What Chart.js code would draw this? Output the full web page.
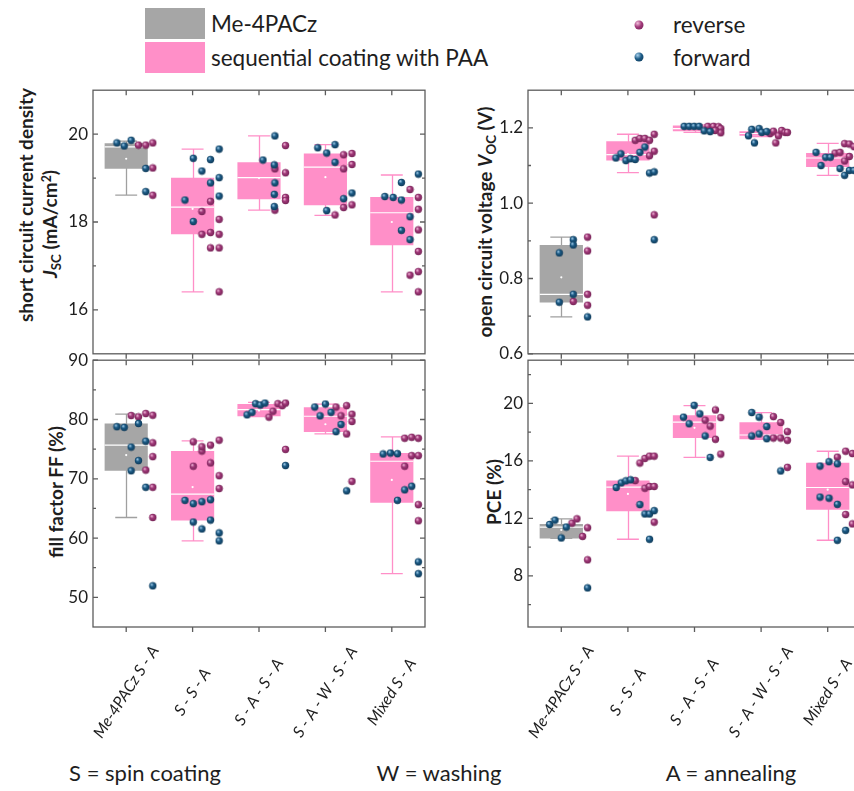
<!DOCTYPE html>
<html>
<head>
<meta charset="utf-8">
<script src="https://cdn.jsdelivr.net/npm/chart.js@4.4.1/dist/chart.umd.min.js"></script>
<style>
  body { margin: 0; background: #fff; }
  #page { position: relative; width: 854px; height: 791px; overflow: hidden; font-family: Lato, "Open Sans", sans-serif; color: #1e1e1e; }
  canvas { position: absolute; }
  .sw { position: absolute; width: 60px; height: 31px; }
  .txt { position: absolute; white-space: nowrap; transform: translateY(-50%); font-size: 22.5px; }
  .ball { position: absolute; width: 9px; height: 9px; border-radius: 50%; transform: translate(-50%, -50%); }
  .ytitle { position: absolute; white-space: nowrap; font-weight: bold; font-size: 19px; transform: translate(-50%, -50%) rotate(-90deg); }
  .ytitle sub { font-size: 70%; vertical-align: -0.25em; }
  .ytitle sup { font-size: 65%; vertical-align: 0.5em; }
  .foot { position: absolute; white-space: nowrap; font-size: 22px; transform: translate(-50%, -50%); }
</style>
</head>
<body>
<div id="page">
  <div class="sw" style="left:145px;top:8px;background:#a6a6a6"></div>
  <div class="sw" style="left:145px;top:42px;background:#ff8fc8"></div>
  <div class="txt" style="left:211px;top:23px">Me-4PACz</div>
  <div class="txt" style="left:211px;top:57px">sequential coating with PAA</div>
  <div class="ball" style="left:639px;top:25px;background:radial-gradient(circle at 35% 30%, #f3bfdc 0%, #a2397a 45%, #6e1f50 100%)"></div>
  <div class="ball" style="left:639px;top:57px;background:radial-gradient(circle at 35% 30%, #a9d2ee 0%, #1c5b86 45%, #0d3552 100%)"></div>
  <div class="txt" style="left:673px;top:24px">reverse</div>
  <div class="txt" style="left:673px;top:57px">forward</div>

  <div class="ytitle" style="left:25px;top:205px">short circuit current density</div>
  <div class="ytitle" style="left:51px;top:224px"><i>J</i><sub>SC</sub> (mA/cm<sup>2</sup>)</div>
  <div class="ytitle" style="left:55px;top:492px">fill factor FF (%)</div>
  <div class="ytitle" style="left:486px;top:222px">open circuit voltage <i>V</i><sub>OC</sub> (V)</div>
  <div class="ytitle" style="left:493px;top:492px">PCE (%)</div>

  <div class="foot" style="left:145px;top:772px">S = spin coating</div>
  <div class="foot" style="left:439px;top:772px">W = washing</div>
  <div class="foot" style="left:731px;top:772px">A = annealing</div>

  <canvas id="cJsc" width="430" height="294" style="left:0;top:75px"></canvas>
  <canvas id="cFF" width="430" height="442" style="left:0;top:345px"></canvas>
  <canvas id="cVoc" width="431" height="294" style="left:435px;top:75px"></canvas>
  <canvas id="cPCE" width="431" height="442" style="left:435px;top:345px"></canvas>
</div>
<script>
// categories (x axis)
const categories = ["Me-4PACz S - A", "S - S - A", "S - A - S - A", "S - A - W - S - A", "Mixed S - A"];

// box stats per category: [whisker low, q1, median, q3, whisker high, mean]
const jscStats = [
  [18.61, 19.21, 19.71, 19.79, 19.84, 19.44],
  [16.41, 17.72, 18.34, 19.01, 19.66, 18.3],
  [18.27, 18.52, 19.01, 19.36, 19.96, 19.0],
  [18.15, 18.38, 19.25, 19.56, 19.76, 19.02],
  [16.41, 17.47, 18.21, 18.57, 19.07, 18.0]
];
const vocStats = [
  [0.698, 0.736, 0.758, 0.889, 0.910, 0.803],
  [1.081, 1.113, 1.129, 1.1645, 1.183, 1.13],
  [1.188, 1.191, 1.198, 1.206, 1.208, 1.198],
  [1.177, 1.179, 1.185, 1.191, 1.194, 1.185],
  [1.074, 1.096, 1.120, 1.133, 1.159, 1.115]
];
const ffStats = [
  [63.47, 71.35, 75.67, 79.33, 80.89, 74.0],
  [59.53, 62.97, 67.41, 74.68, 76.39, 68.6],
  [80.5, 80.55, 81.66, 82.61, 82.9, 81.5],
  [77.56, 77.89, 80.55, 82.05, 82.6, 79.2],
  [53.99, 65.97, 72.96, 74.34, 77.06, 69.8]
];
const pceStats = [
  [10.61, 10.61, 11.40, 11.62, 11.97, 11.2],
  [10.55, 12.50, 14.17, 14.63, 16.33, 13.7],
  [16.24, 17.59, 18.69, 19.17, 19.84, 18.3],
  [17.50, 17.50, 17.80, 18.69, 19.36, 18.0],
  [10.48, 12.61, 14.15, 15.87, 16.67, 14.0]
];

// single cells: [x = category index + jitter, value]
const jscForward = [
  [-0.14,19.80],[-0.03,19.73],[0.075,19.86],[0.295,19.22],[0.295,18.69],
  [0.885,18.50],[1.01,19.45],[1.01,18.01],[1.14,19.16],[1.27,19.42],[1.27,18.89],[1.40,19.66],[1.40,19.01],[1.40,18.59],
  [2.06,19.41],[2.23,19.30],[2.24,19.96],[2.24,18.89],[2.23,18.63],[2.23,18.35],
  [2.885,19.69],[3.02,19.57],[3.145,19.76],[3.145,19.36],[3.275,18.53],[3.02,18.26],[3.40,18.66],
  [3.895,18.58],[4.02,18.56],[4.145,18.50],[4.145,18.90],[4.275,18.12],[4.145,17.81],[4.275,17.60],[4.40,19.09]
];
const jscReverse = [
  [0.185,19.75],[0.295,19.75],[0.40,19.80],[0.40,19.23],[0.40,18.61],
  [1.14,18.24],[1.14,17.72],[1.27,18.47],[1.27,17.76],[1.27,17.41],[1.40,18.06],[1.40,17.72],[1.40,17.41],[1.40,16.41],
  [2.40,19.74],[2.24,19.21],[2.40,19.12],[2.40,18.56],[2.40,18.49],[2.24,18.27],
  [3.275,19.21],[3.275,19.53],[3.40,19.56],[3.40,19.31],[3.275,18.33],[3.145,18.16],[3.40,18.39],
  [4.275,18.74],[4.40,18.56],[4.40,18.29],[4.40,17.82],[4.40,17.33],[4.275,16.79],[4.40,16.87],[4.40,16.41]
];
const vocForward = [
  [-0.03,0.868],[-0.03,0.737],[0.18,0.903],[0.18,0.889],[0.18,0.758],[0.395,0.698],
  [0.82,1.120],[0.895,1.131],[0.97,1.113],[1.04,1.118],[1.11,1.116],[1.18,1.135],[1.255,1.149],[1.325,1.080],[1.395,1.083],[1.395,0.903],
  [1.845,1.204],[1.92,1.204],[1.995,1.204],[2.07,1.204],[2.145,1.192],[2.235,1.190],
  [2.81,1.179],[2.86,1.196],[2.90,1.160],[2.97,1.198],[3.01,1.188],[3.085,1.190],
  [3.825,1.135],[3.90,1.100],[3.97,1.122],[4.04,1.122],[4.185,1.092],[4.255,1.074],[4.325,1.087],[4.395,1.087]
];
const vocReverse = [
  [0.18,0.739],[0.395,0.910],[0.395,0.873],[0.395,0.758],[0.395,0.729],
  [1.11,1.167],[1.18,1.172],[1.255,1.172],[1.325,1.167],[1.395,1.183],[1.395,1.138],[1.325,1.126],[1.395,0.969],
  [2.20,1.204],[2.285,1.204],[2.36,1.203],[2.395,1.198],[2.395,1.187],[2.31,1.193],
  [3.135,1.185],[3.185,1.191],[3.22,1.160],[3.26,1.179],[3.31,1.193],[3.36,1.188],[3.395,1.188],
  [4.11,1.133],[4.185,1.135],[4.255,1.158],[4.325,1.157],[4.255,1.112],[4.325,1.124],[4.395,1.150]
];
const ffForward = [
  [-0.14,78.78],[-0.03,78.67],[0.075,75.34],[0.075,71.35],[0.185,79.33],[0.185,73.07],[0.295,76.34],[0.295,68.57],[0.40,51.94],
  [0.885,66.36],[1.01,65.80],[1.14,66.13],[1.27,66.47],[1.01,62.70],[1.14,61.53],[1.27,63.03],[1.40,60.87],[1.40,59.53],
  [1.82,80.78],[1.895,81.22],[1.95,82.66],[2.02,82.44],[2.09,82.77],[2.40,72.23],
  [2.84,82.1],[2.92,80.61],[3.0,82.61],[3.085,81.22],[3.235,79.17],[3.16,77.95],[3.32,67.96],
  [3.87,74.18],[3.98,74.34],[4.085,74.23],[4.085,66.36],[4.195,68.13],[4.30,68.74],[4.40,55.98],[4.40,53.99]
];
const ffReverse = [
  [0.075,80.67],[0.185,80.44],[0.295,81.0],[0.40,80.72],[0.40,76.06],[0.40,73.73],[0.295,71.46],[0.40,68.57],[0.40,63.47],
  [1.01,76.23],[1.14,74.68],[1.14,75.40],[1.27,75.67],[1.40,76.51],[1.01,72.12],[1.27,72.68],[1.40,70.52],[1.40,68.35],
  [2.15,80.39],[2.21,81.39],[2.285,82.66],[2.35,82.33],[2.40,82.77],[2.40,74.95],
  [3.16,82.1],[3.32,82.33],[3.235,80.61],[3.40,80.89],[3.40,79.67],[3.32,77.56],[3.40,69.57],
  [4.195,72.12],[4.195,76.84],[4.30,77.0],[4.30,73.9],[4.40,76.84],[4.40,73.9],[4.40,65.64],[4.40,62.92]
];
const pceForward = [
  [-0.175,11.58],[-0.095,11.88],[0.0,10.64],[0.075,11.40],[0.395,7.17],
  [0.825,14.15],[0.90,14.47],[0.97,14.61],[1.04,14.68],[1.18,12.96],[1.255,12.31],[1.325,12.31],[1.395,12.54],[1.325,10.55],
  [1.835,19.04],[1.92,18.58],[1.995,19.86],[2.08,19.27],[2.16,17.73],[2.235,16.24],
  [2.86,19.36],[2.97,19.04],[3.085,18.39],[2.86,17.73],[2.97,17.87],[3.085,17.54],[3.295,15.30],
  [3.885,15.64],[4.02,15.94],[4.145,15.80],[3.885,13.48],[4.02,13.41],[4.145,12.98],[4.27,11.17],[4.145,10.48]
];
const pceReverse = [
  [0.16,11.67],[0.235,11.97],[0.32,10.75],[0.395,11.35],[0.395,9.12],
  [1.11,14.63],[1.18,15.85],[1.255,16.17],[1.325,16.33],[1.395,16.33],[1.255,14.10],[1.325,14.22],[1.395,14.22],[1.395,11.74],
  [2.16,18.83],[2.235,18.42],[2.315,19.54],[2.315,17.50],[2.395,19.01],[2.395,16.47],
  [3.185,19.08],[3.295,18.67],[3.185,17.59],[3.295,17.59],[3.395,18.03],[3.395,17.43],[3.395,15.55],
  [4.145,16.26],[4.27,16.67],[4.27,14.56],[4.27,12.27],[4.37,16.51],[4.37,14.33],[4.37,11.62]
];

// tick labels and minor ticks
const jscTicks = [16, 18, 20], jscMinor = [17, 19];
const vocTicks = [0.6, 0.8, 1.0, 1.2], vocMinor = [0.7, 0.9, 1.1];
const ffTicks = [50, 60, 70, 80, 90], ffMinor = [55, 65, 75, 85];
const pceTicks = [8, 12, 16, 20], pceMinor = [6, 10, 14, 18, 22];

const GREY = "#a6a6a6", PINK = "#ff8fc8";
const FRAME = "#5c5c5c", TEXT = "#1e1e1e";

function makeBall(light, mid, dark) {
  const c = document.createElement("canvas");
  c.width = c.height = 9;
  const g = c.getContext("2d");
  const grd = g.createRadialGradient(3.2, 3.0, 0.2, 4.5, 4.5, 4.2);
  grd.addColorStop(0, light);
  grd.addColorStop(0.4, mid);
  grd.addColorStop(1, dark);
  g.fillStyle = grd;
  g.beginPath();
  g.arc(4.5, 4.5, 3.7, 0, Math.PI * 2);
  g.fill();
  return c;
}
const ballRev = makeBall("#f3bfdc", "#a2397a", "#6e1f50");
const ballFwd = makeBall("#a9d2ee", "#1c5b86", "#0d3552");

function makeChart(id, stats, fwd, rev, min, max, ticks, minor, fmt, bottomPad, showLabels) {
  const boxPlugin = {
    id: "boxParts",
    beforeDatasetsDraw(chart) {
      const ctx = chart.ctx, xp = chart.scales.xp, y = chart.scales.y;
      ctx.save();
      ctx.lineWidth = 1.3;
      stats.forEach((s, i) => {
        ctx.strokeStyle = i === 0 ? "#a0a0a0" : PINK;
        const x = Math.round(xp.getPixelForValue(i)) + 0.5;
        ctx.beginPath();
        ctx.moveTo(x, y.getPixelForValue(s[0]));
        ctx.lineTo(x, y.getPixelForValue(s[4]));
        [s[0], s[4]].forEach(v => {
          const py = y.getPixelForValue(v);
          ctx.moveTo(xp.getPixelForValue(i - 0.165), py);
          ctx.lineTo(xp.getPixelForValue(i + 0.165), py);
        });
        ctx.stroke();
      });
      ctx.restore();
    },
    afterDatasetDraw(chart, args) {
      if (args.meta.type !== "bar") return;
      const ctx = chart.ctx, xp = chart.scales.xp, y = chart.scales.y;
      ctx.save();
      ctx.strokeStyle = "#ffffff";
      ctx.fillStyle = "#ffffff";
      ctx.lineWidth = 1.2;
      stats.forEach((s, i) => {
        const py = y.getPixelForValue(s[2]);
        ctx.beginPath();
        ctx.moveTo(xp.getPixelForValue(i - 0.325), py);
        ctx.lineTo(xp.getPixelForValue(i + 0.325), py);
        ctx.stroke();
        ctx.beginPath();
        ctx.arc(xp.getPixelForValue(i), y.getPixelForValue(s[5]), 1.1, 0, Math.PI * 2);
        ctx.fill();
      });
      ctx.restore();
    },
    afterDraw(chart) {
      const ctx = chart.ctx, a = chart.chartArea, xp = chart.scales.xp, y = chart.scales.y;
      ctx.save();
      ctx.strokeStyle = FRAME;
      ctx.lineWidth = 1.3;
      ctx.strokeRect(a.left, a.top, a.right - a.left, a.bottom - a.top);
      ctx.beginPath();
      ticks.forEach(v => {
        const py = y.getPixelForValue(v);
        ctx.moveTo(a.left, py); ctx.lineTo(a.left + 5, py);
        ctx.moveTo(a.right, py); ctx.lineTo(a.right - 5, py);
      });
      minor.forEach(v => {
        const py = y.getPixelForValue(v);
        ctx.moveTo(a.left, py); ctx.lineTo(a.left + 3, py);
        ctx.moveTo(a.right, py); ctx.lineTo(a.right - 3, py);
      });
      categories.forEach((c, i) => {
        const px = xp.getPixelForValue(i);
        ctx.moveTo(px, a.top); ctx.lineTo(px, a.top + 5);
        ctx.moveTo(px, a.bottom); ctx.lineTo(px, a.bottom + 5);
      });
      ctx.stroke();
      if (showLabels) {
        ctx.fillStyle = TEXT;
        ctx.font = "italic 16px Lato";
        ctx.textAlign = "center";
        ctx.textBaseline = "middle";
        categories.forEach((c, i) => {
          ctx.save();
          ctx.translate(chart.scales.x.getPixelForValue(i), a.bottom + 65);
          ctx.rotate(-57 * Math.PI / 180);
          ctx.fillText(c, 0, 0);
          ctx.restore();
        });
      }
      ctx.restore();
    }
  };

  return new Chart(document.getElementById(id), {
    type: "bar",
    data: {
      labels: categories,
      datasets: [
        {
          type: "scatter", label: "forward", xAxisID: "xp", yAxisID: "y", order: 1,
          data: fwd.map(p => ({ x: p[0], y: p[1] })),
          pointStyle: ballFwd, pointRadius: 4, showLine: false
        },
        {
          type: "scatter", label: "reverse", xAxisID: "xp", yAxisID: "y", order: 2,
          data: rev.map(p => ({ x: p[0], y: p[1] })),
          pointStyle: ballRev, pointRadius: 4, showLine: false
        },
        {
          type: "bar", label: "box", xAxisID: "x", yAxisID: "y", order: 3,
          data: stats.map(s => [s[1], s[3]]),
          backgroundColor: stats.map((s, i) => i === 0 ? GREY : PINK),
          borderWidth: 0, grouped: false, barPercentage: 0.65, categoryPercentage: 1
        }
      ]
    },
    options: {
      responsive: false,
      animation: false,
      events: [],
      devicePixelRatio: 1,
      layout: { padding: { top: 12, bottom: bottomPad, left: 0, right: 4 } },
      plugins: { legend: { display: false }, tooltip: { enabled: false } },
      scales: {
        x: { type: "category", display: false, offset: true },
        xp: { type: "linear", display: false, offset: false, min: -0.5, max: 4.5 },
        y: {
          type: "linear", position: "left", min: min, max: max, offset: false,
          afterFit: s => { s.width = 93; },
          afterBuildTicks: s => { s.ticks = ticks.map(v => ({ value: v })); },
          grid: { display: false, drawTicks: false },
          border: { display: false },
          ticks: { autoSkip: false, padding: 5, color: TEXT, font: { family: "Lato", size: 17 }, callback: fmt }
        }
      }
    },
    plugins: [boxPlugin]
  });
}

makeChart("cJsc", jscStats, jscForward, jscReverse, 15, 21, jscTicks, jscMinor, v => v, 12, false);
makeChart("cFF", ffStats, ffForward, ffReverse, 45, 90, ffTicks, ffMinor, v => v, 160, true);
makeChart("cVoc", vocStats, vocForward, vocReverse, 0.6, 1.3, vocTicks, vocMinor, v => v.toFixed(1), 12, false);
makeChart("cPCE", pceStats, pceForward, pceReverse, 4.45, 23, pceTicks, pceMinor, v => v, 160, true);
</script>
</body>
</html>
